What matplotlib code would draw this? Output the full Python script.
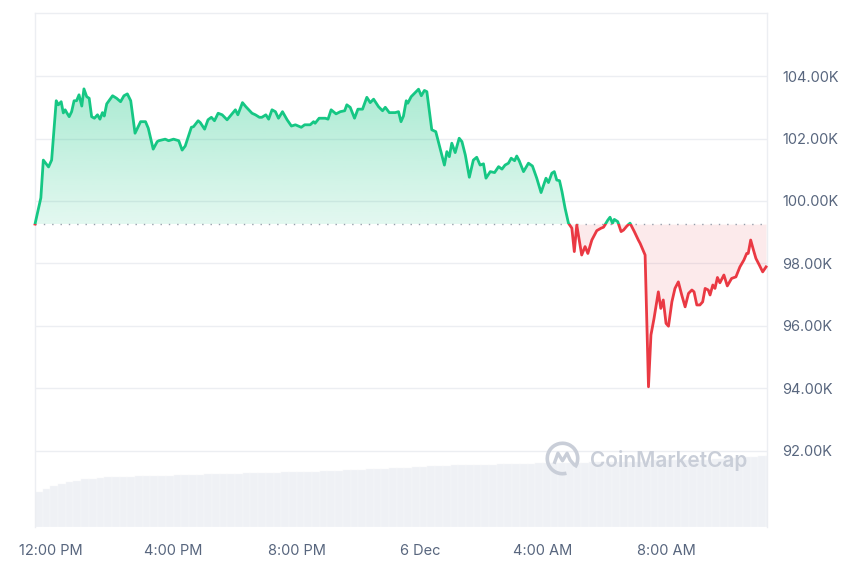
import matplotlib
matplotlib.use("Agg")
import matplotlib.pyplot as plt
import numpy as np
from matplotlib.colors import to_rgb
from matplotlib.patches import Rectangle, Arc
from matplotlib.path import Path
from matplotlib.patches import PathPatch

# price trace: hours after 12:00 PM (5 Dec), price in thousand USD
hours = [
    -0.50, -0.31, -0.23, -0.06, 0.04, 0.19, 0.26, 0.35, 0.42, 0.48, 0.53, 0.61, 0.69, 0.77,
    0.85, 0.93, 1.02, 1.09, 1.18, 1.26, 1.34, 1.43, 1.53, 1.61, 1.69, 1.75, 1.83, 1.94,
    2.02, 2.15, 2.28, 2.39, 2.50, 2.61, 2.75, 2.93, 3.09, 3.18, 3.34, 3.47, 3.52, 3.73,
    3.84, 4.00, 4.17, 4.28, 4.38, 4.58, 4.65, 4.80, 4.87, 5.01, 5.12, 5.23, 5.33, 5.45,
    5.58, 5.74, 5.90, 6.01, 6.09, 6.24, 6.35, 6.55, 6.66, 6.79, 6.87, 7.00, 7.09, 7.20,
    7.31, 7.41, 7.54, 7.69, 7.83, 7.96, 8.15, 8.26, 8.44, 8.55, 8.60, 8.73, 8.93, 9.02,
    9.12, 9.28, 9.42, 9.56, 9.63, 9.74, 9.88, 9.99, 10.14, 10.28, 10.39, 10.50, 10.66,
    10.79, 10.88, 11.01, 11.20, 11.31, 11.39, 11.47, 11.56, 11.61, 11.72, 11.85, 11.96,
    12.05, 12.15, 12.23, 12.39, 12.52, 12.66, 12.80, 12.88, 12.96, 13.04, 13.15, 13.28,
    13.37, 13.48, 13.61, 13.74, 13.85, 13.96, 14.07, 14.15, 14.29, 14.43, 14.56, 14.67,
    14.77, 14.88, 14.97, 15.08, 15.15, 15.23, 15.37, 15.53, 15.66, 15.80, 15.94, 16.10,
    16.18, 16.29, 16.37, 16.45, 16.54, 16.62, 16.72, 16.83, 16.94, 17.02, 17.10, 17.18,
    17.26, 17.37, 17.46, 17.59, 17.75, 17.89, 17.97, 18.11, 18.18, 18.26, 18.32, 18.43,
    18.54, 18.62, 18.73, 18.83, 18.97, 19.10, 19.16, 19.32, 19.43, 19.51, 19.61, 19.75,
    19.83, 19.91, 20.00, 20.08, 20.19, 20.29, 20.40, 20.51, 20.62, 20.73, 20.84, 20.91,
    21.00, 21.10, 21.19, 21.27, 21.37, 21.43, 21.52, 21.59, 21.67, 21.75, 21.88, 21.99,
    22.13, 22.27, 22.40, 22.53, 22.62, 22.67, 22.75, 22.84, 22.92, 23.03, 23.14, 23.25,
]
price = [
    99.26, 100.10, 101.31, 101.09, 101.31, 103.21, 103.08, 103.18, 102.82, 102.92, 102.83,
    102.70, 102.86, 103.21, 103.21, 103.40, 103.04, 103.59, 103.34, 103.29, 102.70, 102.65,
    102.76, 102.62, 102.83, 102.72, 103.11, 103.26, 103.37, 103.29, 103.18, 103.37, 103.43,
    103.21, 102.17, 102.54, 102.54, 102.33, 101.66, 101.90, 101.93, 101.98, 101.93, 101.98,
    101.93, 101.63, 101.76, 102.36, 102.38, 102.57, 102.51, 102.30, 102.60, 102.68, 102.57,
    102.81, 102.76, 102.60, 102.79, 102.92, 102.76, 103.15, 103.02, 102.81, 102.76, 102.68,
    102.68, 102.76, 102.62, 102.92, 102.86, 102.65, 102.86, 102.60, 102.40, 102.44, 102.36,
    102.44, 102.44, 102.54, 102.49, 102.65, 102.65, 102.62, 102.92, 102.79, 102.86, 102.89,
    103.08, 103.00, 102.65, 102.94, 102.94, 103.32, 103.15, 103.26, 103.02, 102.89, 103.00,
    102.83, 102.83, 102.86, 102.54, 102.72, 103.21, 103.13, 103.34, 103.47, 103.58, 103.37,
    103.54, 103.50, 102.28, 102.22, 101.69, 101.15, 101.58, 101.42, 101.85, 101.55, 102.01,
    101.90, 101.47, 100.76, 101.31, 101.40, 101.15, 101.19, 100.73, 100.94, 100.91, 101.10,
    101.02, 101.15, 101.21, 101.37, 101.29, 101.44, 101.29, 100.94, 101.21, 101.12, 100.73,
    100.27, 100.73, 100.59, 100.89, 100.94, 100.67, 100.65, 100.30, 99.77, 99.29, 99.13,
    98.38, 99.23, 98.75, 98.27, 98.54, 98.32, 98.75, 99.05, 99.13, 99.16, 99.39, 99.48,
    99.29, 99.41, 99.34, 99.02, 99.07, 99.20, 99.29, 99.02, 98.75, 98.64, 98.27, 94.05,
    95.71, 96.24, 97.09, 96.56, 96.83, 96.08, 95.99, 96.77, 97.20, 97.41, 96.99, 96.61,
    97.04, 97.15, 97.09, 96.67, 96.67, 96.77, 97.20, 97.15, 96.99, 97.31, 97.20, 97.55,
    97.38, 97.63, 97.28, 97.52, 97.57, 97.89, 98.11, 98.32, 98.32, 98.75, 98.43, 98.16,
    97.95, 97.73, 97.89,
]
open_price = 99.26

# 24h volume, billion USD, one bar per 15 minutes starting at 11:30 AM
vol_start, vol_step = -0.5, 0.25
volume = [
    49, 53, 58, 61, 63, 65, 67, 68, 69, 70, 70.5,
    71, 71, 71.5, 71.5, 72, 72, 72.5, 73, 73, 73.5, 73.5,
    74, 74, 74.5, 74.5, 75, 75.5, 75.5, 76, 76, 76.5, 77,
    77, 77.5, 78, 78, 78.5, 79, 79.5, 80, 80, 80.5, 81,
    81.5, 82, 82.5, 83, 83.5, 84, 85, 85.5, 86, 86.5, 87,
    87, 87.5, 87.5, 88, 88, 88.5, 88.5, 89, 89, 89, 89.5,
    89.5, 90, 90, 90, 90.5, 90.5, 91, 91, 91, 91.5, 91.5,
    92, 92, 93, 94, 94, 94.5, 94.5, 94.5, 95, 95, 95,
    95.5, 96, 96.5, 97, 98, 99, 99.5, 100,
]

tick_hours = [0, 4, 8, 12, 16, 20]
tick_labels = ["12:00 PM", "4:00 PM", "8:00 PM", "6 Dec", "4:00 AM", "8:00 AM"]
price_ticks = [92, 94, 96, 98, 100, 102, 104]

GREEN = "#16c784"
RED = "#ea3943"
GREY = "#58667e"
GRID = "#eceef2"

plt.rcParams["font.family"] = ["Inter", "DejaVu Sans"]

x0, x1 = -0.5, 23.28
y0, y1 = 89.56, 106.02
rect = [35 / 860, 46 / 573, 732 / 860, 514 / 573]

fig = plt.figure(figsize=(8.6, 5.73), dpi=100)
ax_v = fig.add_axes(rect)
ax = fig.add_axes(rect, sharex=ax_v)
ax.patch.set_alpha(0)

# volume bars
t_vol = vol_start + vol_step * np.arange(len(volume))
ax_v.bar(t_vol, volume, width=vol_step, align="edge", color="#eff1f5",
         edgecolor="#f7f8fa", linewidth=0.3)
ax_v.set_ylim(0, 724)
ax_v.set_xlim(x0, x1)
ax_v.axis("off")

h = np.array(hours)
p = np.array(price)

# green gradient fill above the open price
poly = ax.fill_between(h, np.maximum(p, open_price), open_price, color="none", lw=0)
top = p.max()
rgba = np.zeros((256, 1, 4))
rgba[..., :3] = to_rgb(GREEN)
rgba[..., 3] = np.linspace(0.12, 0.36, 256)[:, None]
img = ax.imshow(rgba, extent=[x0, x1, open_price, top], origin="lower",
                aspect="auto", zorder=1)
img.set_clip_path(poly.get_paths()[0], transform=ax.transData)

# red fill below the open price
ax.fill_between(h, np.minimum(p, open_price), open_price, color=RED, alpha=0.1, lw=0, zorder=1)

# price line, green above / red below open
ln_g, = ax.plot(h, p, color=GREEN, lw=2.0, solid_joinstyle="round", zorder=3)
ln_g.set_clip_path(Rectangle((x0 - 1, open_price), x1 - x0 + 2, 30, transform=ax.transData))
ln_r, = ax.plot(h, p, color=RED, lw=2.0, solid_joinstyle="round", zorder=3)
ln_r.set_clip_path(Rectangle((x0 - 1, open_price - 30), x1 - x0 + 2, 30, transform=ax.transData))

ax.axhline(open_price, color="#979eab", lw=1, ls=(0, (1, 5)), zorder=2)

ax.set_xlim(x0, x1)
ax.set_ylim(y0, y1)
ax.set_yticks(price_ticks)
ax.set_yticklabels([f"{v:.2f}K" for v in price_ticks])
ax.set_xticks(tick_hours)
ax.set_xticklabels(tick_labels)
ax.yaxis.tick_right()
ax.tick_params(axis="y", length=0, pad=11, labelsize=10.5, labelcolor=GREY)
ax.tick_params(axis="x", length=0, pad=12, labelsize=10.5, labelcolor=GREY)
ax.grid(axis="y", color=GRID, lw=1)
ax.grid(axis="x", visible=False)
ax.set_axisbelow(True)
for side in ["top", "left", "right"]:
    ax.spines[side].set_color(GRID)
    ax.spines[side].set_linewidth(1)
ax.spines["bottom"].set_visible(False)

# watermark
ax.text(0.758, 0.130, "CoinMarketCap", transform=ax.transAxes, ha="left", va="center",
        fontsize=15, fontweight="semibold", color="#c9ced8", zorder=4)
ax_logo = fig.add_axes([545 / 860, 97 / 573, 35 / 860, 35 / 573])
ax_logo.set_xlim(-1.15, 1.15)
ax_logo.set_ylim(-1.15, 1.15)
ax_logo.set_aspect("equal")
ax_logo.axis("off")
ax_logo.add_patch(Arc((0, 0), 2, 2, theta1=-35, theta2=285, color="#c9ced8", lw=2.6))
m_path = Path([(-0.55, -0.35), (-0.3, 0.35), (0.0, -0.15), (0.3, 0.35), (0.5, -0.1), (0.8, -0.45)])
ax_logo.add_patch(PathPatch(m_path, fill=False, edgecolor="#c9ced8", lw=2.4, joinstyle="round"))

fig.savefig("out.png", dpi=100)
print("saved out.png")
